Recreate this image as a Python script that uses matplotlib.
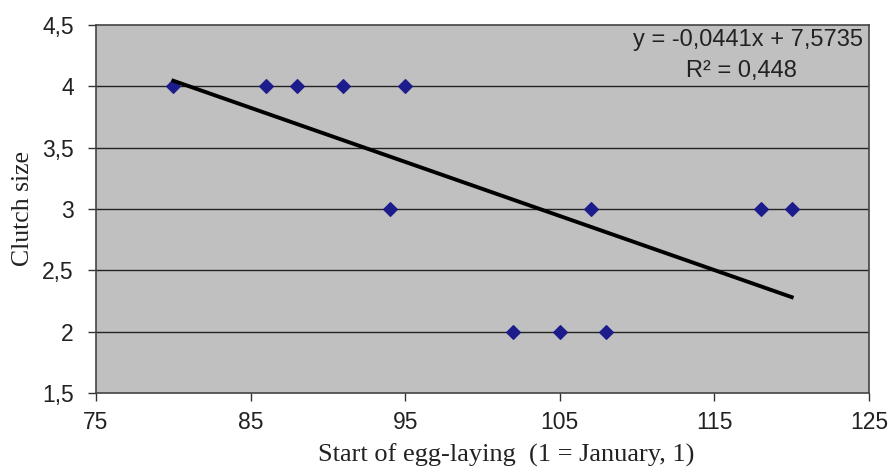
import matplotlib.pyplot as plt
import numpy as np

# egg-laying start day vs clutch size
start_day = [80, 86, 88, 91, 95, 94, 107, 118, 120, 102, 105, 108]
clutch = [4, 4, 4, 4, 4, 3, 3, 3, 3, 2, 2, 2]
slope, intercept = -0.0441, 7.5735
r2 = 0.448

x_ticks = [75, 85, 95, 105, 115, 125]
y_ticks = [1.5, 2, 2.5, 3, 3.5, 4, 4.5]

fig = plt.figure(figsize=(8.91, 4.72), dpi=100)
ax = fig.add_axes([96 / 891, 1 - 393 / 472, (869 - 96) / 891, (393 - 25) / 472])
ax.set_facecolor('#c0c0c0')

for yv in y_ticks[1:-1]:
    ax.axhline(yv, color='#222222', lw=1.0, zorder=1)

ax.scatter(start_day, clutch, marker='D', s=48, color='#1c1c8c', zorder=3)

xl = np.array([min(start_day), max(start_day)])
ax.plot(xl, slope * xl + intercept, color='black', lw=2.8, zorder=4)

ax.set_xlim(75, 125)
ax.set_ylim(1.5, 4.5)
ax.set_xticks(x_ticks)
ax.set_yticks(y_ticks)
ax.set_xticklabels([str(t) for t in x_ticks], family='Liberation Sans', fontsize=16.5, color='#222222')
ax.set_yticklabels([f"{t:g}".replace('.', ',') for t in y_ticks], family='Liberation Sans', fontsize=16.5, color='#222222')
ax.tick_params(axis='y', direction='out', length=6, width=1, color='#333333', pad=10)
ax.tick_params(axis='x', direction='out', length=6, width=1, color='#333333', pad=7)
for s in ax.spines.values():
    s.set_color('#444444')
    s.set_linewidth(1.2)

ax.set_xlabel("Start of egg-laying  (1 = January, 1)", family='Liberation Serif', fontsize=19, color='#222222')
ax.xaxis.set_label_coords(0.53, -0.138)
ax.set_ylabel("Clutch size", family='Liberation Serif', fontsize=18.5, labelpad=6, color='#222222')

eq = f"y = {slope:.4f}x + {intercept:.4f}".replace('.', ',')
ax.text(0.992, 0.99, eq, transform=ax.transAxes, ha='right', va='top',
        family='Liberation Sans', fontsize=17, color='#222222')
ax.text(0.835, 0.905, f"R² = {r2:.3f}".replace('.', ','), transform=ax.transAxes,
        ha='center', va='top', family='Liberation Sans', fontsize=17, color='#222222')

fig.savefig('out.png', dpi=100)
